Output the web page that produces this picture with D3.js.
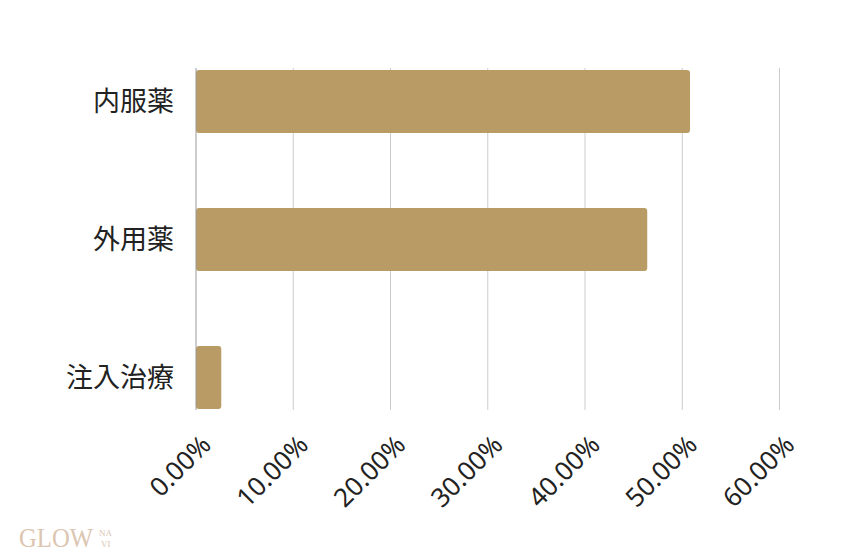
<!DOCTYPE html>
<html><head><meta charset="utf-8">
<script src="https://cdn.jsdelivr.net/npm/d3@7"></script>
<style>body{margin:0;background:#fff}svg{display:block}</style>
</head><body><svg id="c" width="850" height="560"></svg>
<script>
const categories = ["内服薬", "外用薬", "注入治療"];
const values = [0.508, 0.464, 0.026];
const xTicks = [0, 0.1, 0.2, 0.3, 0.4, 0.5, 0.6];

const svg = d3.select("#c");
const x = d3.scaleLinear().domain([0, 0.6]).range([196, 779.5]);
const y = d3.scaleBand().domain(categories).range([70, 409]).paddingInner(0.543).paddingOuter(0);
const gridTop = 68, gridBot = 410;

// gridlines
svg.append("g").selectAll("line").data(xTicks.slice(1)).join("line")
  .attr("x1", d => x(d)).attr("x2", d => x(d)).attr("y1", gridTop).attr("y2", gridBot)
  .attr("stroke", "#cccccc").attr("stroke-width", 1);

// bars
svg.append("g").selectAll("rect").data(categories).join("rect")
  .attr("x", x(0)).attr("y", d => y(d))
  .attr("width", (d, i) => x(values[i]) - x(0))
  .attr("height", y.bandwidth())
  .attr("rx", 3).attr("fill", "#b89b65");

// zero axis
svg.append("line").attr("x1", x(0)).attr("x2", x(0)).attr("y1", gridTop).attr("y2", gridBot)
  .attr("stroke", "#999999").attr("stroke-width", 1);

// y labels
const yAxis = d3.axisLeft(y).tickSize(0).tickPadding(0);
const gy = svg.append("g").attr("transform", "translate(174,0)").call(yAxis);
gy.select(".domain").remove();
gy.selectAll("text").attr("font-family", "'Noto Sans CJK JP', 'Noto Sans', sans-serif")
  .attr("font-size", 27).attr("fill", "#222").attr("dy", "0.35em");

// x labels
const xAxis = d3.axisBottom(x).tickValues(xTicks).tickFormat(d3.format(".2%")).tickSize(0);
const gx = svg.append("g").call(xAxis);
gx.select(".domain").remove();
gx.selectAll(".tick").attr("transform", d => `translate(${x(d) + 10},440)`);
gx.selectAll("text").attr("y", 0).attr("dy", "0.35em")
  .attr("transform", "rotate(-45)").attr("text-anchor", "end")
  .attr("font-family", "'Noto Sans', sans-serif").attr("font-size", 26).attr("fill", "#222");

// logo
const logo = svg.append("g").attr("fill", "#dcc6b2").attr("font-family", "'Liberation Serif', serif");
logo.append("text").attr("x", 19).attr("y", 547).attr("font-size", 27).attr("textLength", 74)
  .attr("lengthAdjust", "spacingAndGlyphs").text("GLOW");
logo.append("text").attr("x", 99).attr("y", 536).attr("font-size", 9).text("NA");
logo.append("text").attr("x", 101).attr("y", 547).attr("font-size", 9).text("VI");
</script></body></html>
